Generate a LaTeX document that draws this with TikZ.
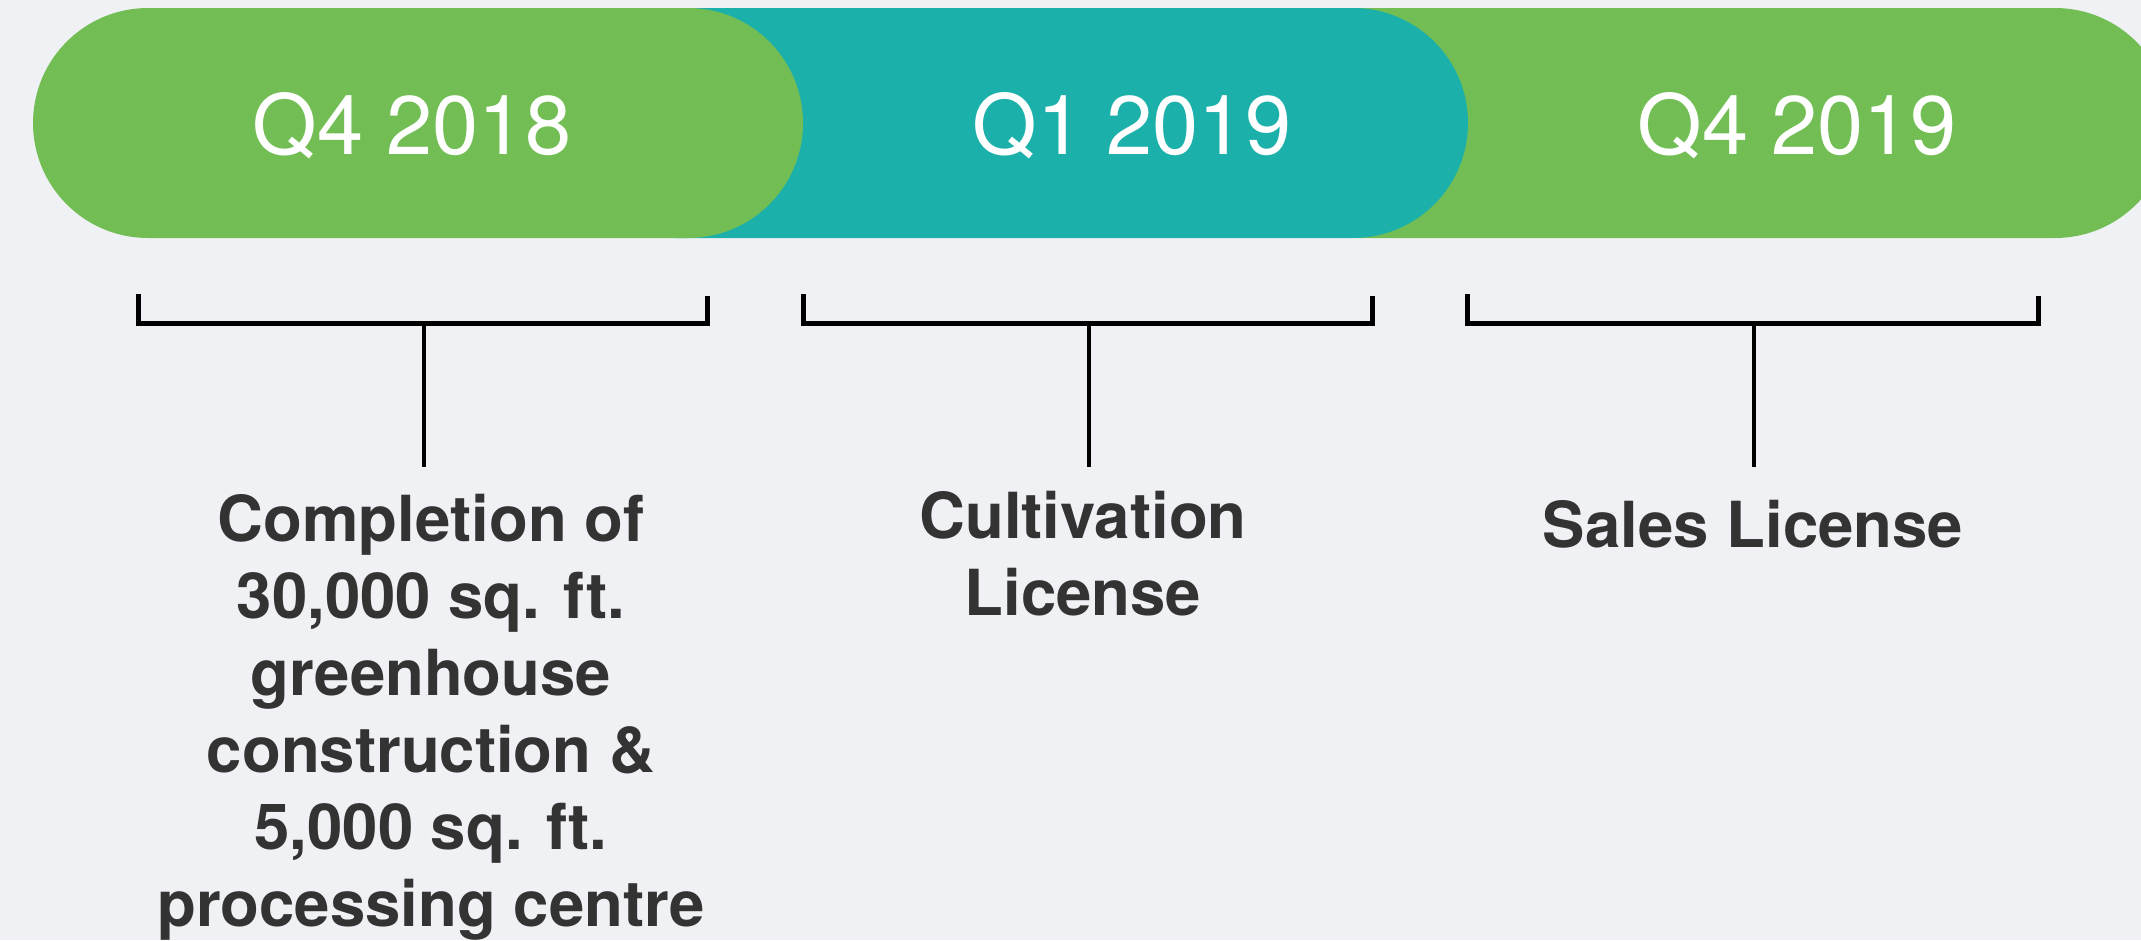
\documentclass[tikz,border=0pt]{standalone}
\usepackage{fontspec}
\setmainfont{TeX Gyre Heros}
\definecolor{bgc}{RGB}{240,241,245}
\definecolor{pillgreen}{RGB}{114,190,85}
\definecolor{pillteal}{RGB}{28,176,170}
\definecolor{labelgray}{RGB}{51,51,51}
\begin{document}
\begin{tikzpicture}[x=1pt,y=-1pt,
  pill/.style={rounded corners=115pt},
  pilltext/.style={anchor=base,text=white,inner sep=0pt,font=\fontsize{83}{90}\selectfont},
  bracket/.style={draw=black,line width=5pt},
  stem/.style={draw=black,line width=4pt},
  milestone/.style={anchor=base,align=center,inner sep=0pt,text=labelgray,font=\bfseries\fontsize{63.5}{77}\selectfont}]
\useasboundingbox (0,0) rectangle (2141,940);
\fill[bgc] (0,0) rectangle (2141,940);
\clip (0,0) rectangle (2141,940);
% pills (back to front)
\fill[pillgreen,pill] (1240,8) rectangle (2170,238);
\fill[pillteal,pill] (560,8) rectangle (1468,238);
\fill[pillgreen,pill] (33,8) rectangle (803,238);
\node[pilltext] (p1) at (412,154) {Q4 2018};
\node[pilltext] (p2) at (1132,154) {Q1 2019};
\node[pilltext] (p3) at (1797,154) {Q4 2019};
% brackets
\coordinate (b1l) at (138,294); \coordinate (b1r) at (707,296);
\coordinate (b2l) at (803,294); \coordinate (b2r) at (1372,296);
\coordinate (b3l) at (1467,294); \coordinate (b3r) at (2038,296);
\coordinate (s1t) at (424,323); \coordinate (s1b) at (424,467);
\coordinate (s2t) at (1089,323); \coordinate (s2b) at (1089,467);
\coordinate (s3t) at (1754,323); \coordinate (s3b) at (1754,467);
\draw[bracket] (b1l) -- (b1l |- s1t) -- (b1r |- s1t) -- (b1r);
\draw[bracket] (b2l) -- (b2l |- s2t) -- (b2r |- s2t) -- (b2r);
\draw[bracket] (b3l) -- (b3l |- s3t) -- (b3r |- s3t) -- (b3r);
\draw[stem] (s1t) -- (s1b);
\draw[stem] (s2t) -- (s2b);
\draw[stem] (s3t) -- (s3b);
% labels (anchor=base is the baseline of the last line)
\node[milestone] (m1) at (431,926) {Completion of\\30,000 sq. ft.\\greenhouse\\construction \&\\5,000 sq. ft.\\processing centre};
\node[milestone] (m2) at (1083,615) {Cultivation\\License};
\node[milestone] (m3) at (1753,547) {Sales License};
\end{tikzpicture}
\end{document}
